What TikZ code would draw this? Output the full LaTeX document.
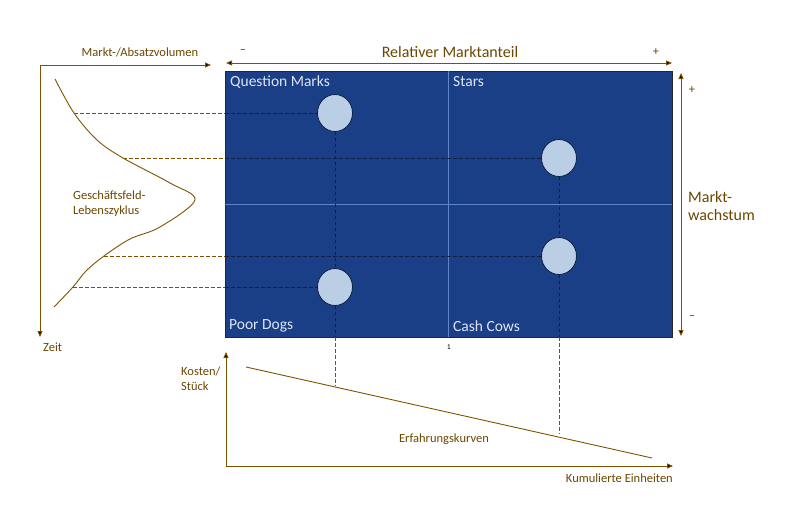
\documentclass[tikz,border=0pt]{standalone}
\usepackage{fontspec}
\setmainfont{Carlito}
\usetikzlibrary{shapes.geometric,arrows.meta}
\definecolor{brn}{HTML}{7F5200}
\definecolor{brntxt}{HTML}{6A4600}
\definecolor{mblue}{HTML}{1B3F86}
\definecolor{mline}{HTML}{5F86C6}
\definecolor{lbl}{HTML}{DCE5F3}
\definecolor{bub}{HTML}{BACEE6}
\definecolor{dk}{HTML}{0E1F42}
\tikzset{
  axis/.style={draw=brn, line width=0.9pt},
  tip/.style={-{Triangle[length=6pt,width=5pt,fill=black]}},
  dtip/.style={{Triangle[length=6pt,width=5pt,fill=black]}-{Triangle[length=6pt,width=5pt,fill=black]}},
  bdash/.style={draw=brn, line width=0.8pt, dash pattern=on 3.5pt off 2.5pt},
  kdash/.style={draw=dk, line width=0.8pt, dash pattern=on 3.5pt off 2.5pt},
  bubble/.style={ellipse, draw=dk, line width=0.8pt, fill=bub, minimum width=35pt, minimum height=37pt, inner sep=0pt},
  smalltxt/.style={text=brntxt, font=\fontsize{12.5}{15}\selectfont, inner sep=0pt, align=left},
  bigtxt/.style={text=brntxt, font=\fontsize{16}{18}\selectfont, inner sep=0pt, align=left},
  qtxt/.style={text=lbl, font=\fontsize{15.5}{18}\selectfont, inner sep=0pt, anchor=west},
}
\begin{document}
\begin{tikzpicture}[x=1pt,y=-1pt]
\useasboundingbox (0,0) rectangle (797,527);
% matrix
\node[draw=black!85, line width=0.9pt, fill=mblue, minimum width=447pt, minimum height=266pt, inner sep=0pt] (M) at (448.5,204) {};
\draw[mline, line width=0.6pt] (M.north) -- (M.south);
\draw[mline, line width=0.6pt] (M.west) -- (M.east);
\node[qtxt] (tQM) at (230,82) {Question Marks};
\node[qtxt] (tST) at (453,82) {Stars};
\node[qtxt] (tPD) at (229,326) {Poor Dogs};
\node[qtxt] (tCC) at (453,326) {Cash Cows};
% bubbles
\node[bubble] (QM) at (335,113) {};
\node[bubble] (ST) at (559,158) {};
\node[bubble] (CC) at (559,256) {};
\node[bubble] (PD) at (335,287) {};
% curve points
\coordinate (c1) at (74,113);
\coordinate (c2) at (123,158);
\coordinate (c3) at (104,256);
\coordinate (c4) at (73,287);
\coordinate (e1) at (225,113);
\coordinate (e2) at (225,158);
\coordinate (e3) at (225,256);
\coordinate (e4) at (225,287);
\coordinate (b1) at (335,337);
\coordinate (b2) at (559,337);
\coordinate (k1) at (335,386);
\coordinate (k2) at (559,434);
% dashed guides
\draw[bdash] (c1) -- (e1); \draw[kdash] (e1) -- (QM.west);
\draw[bdash] (c2) -- (e2); \draw[kdash] (e2) -- (ST.west);
\draw[bdash] (c3) -- (e3); \draw[kdash] (e3) -- (CC.west);
\draw[bdash] (c4) -- (e4); \draw[kdash] (e4) -- (PD.west);
\draw[kdash] (QM.south) -- (PD.north);
\draw[kdash] (PD.south) -- (b1);
\draw[bdash] (b1) -- (k1);
\draw[kdash] (ST.south) -- (CC.north);
\draw[kdash] (CC.south) -- (b2);
\draw[bdash] (b2) -- (k2);
% life cycle curve
\draw[brn, line width=0.9pt] plot[smooth, tension=0.55] coordinates {(55,79) (74,113) (97,140) (123,158) (170,183) (195,200) (160,227) (130,239) (104,256) (86,271) (73,287) (54,307)};
% left axes
\coordinate (o1) at (40,65);
\coordinate (o1x) at (211,65);
\coordinate (o1y) at (40,337);
\draw[axis, tip] (o1) -- (o1x);
\draw[axis, tip] (o1) -- (o1y);
\node[smalltxt] (tMA) at (140,52) {Markt-/Absatzvolumen};
\node[smalltxt, anchor=west] (tZ) at (43,347) {Zeit};
\node[smalltxt, anchor=west] (tGL) at (73,204) {Geschäftsfeld-\\Lebenszyklus};
% relative market share
\coordinate (r1) at (226,63);
\coordinate (r2) at (672,63);
\draw[axis, dtip] (r1) -- (r2);
\node[bigtxt] (tRM) at (450,52) {Relativer Marktanteil};
\node[smalltxt] (tm1) at (243,52) {–};
\node[smalltxt] (tp1) at (656,52) {+};
% market growth
\coordinate (g1) at (681,73);
\coordinate (g2) at (681,336);
\draw[axis, dtip] (g1) -- (g2);
\node[smalltxt] (tp2) at (692,90) {+};
\node[smalltxt] (tm2) at (692,318) {–};
\node[bigtxt, anchor=west] (tMW) at (688,206) {Markt-\\wachstum};
\node[text=black, font=\ttfamily\fontsize{8}{9}\selectfont, inner sep=0pt] (t1) at (449,347) {1};
% experience curve
\coordinate (o2) at (226,466);
\coordinate (o2x) at (673,466);
\coordinate (o2y) at (226,352);
\draw[axis, tip] (o2) -- (o2x);
\draw[axis, tip] (o2) -- (o2y);
\coordinate (l1) at (246,367);
\coordinate (l2) at (652,458);
\draw[brn, line width=0.9pt] (l1) -- (l2);
\node[smalltxt, anchor=west] (tKS) at (181,379) {Kosten/\\Stück};
\node[smalltxt, anchor=east] (tKE) at (673,478) {Kumulierte Einheiten};
\node[smalltxt] (tEK) at (444,439) {Erfahrungskurven};
\end{tikzpicture}
\end{document}
